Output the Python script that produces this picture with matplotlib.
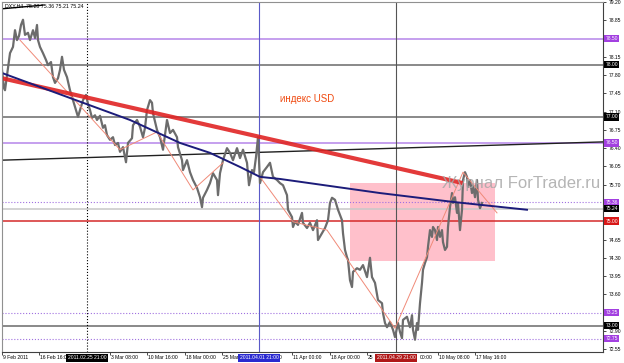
import numpy as np
import matplotlib.pyplot as plt
from matplotlib.patches import Rectangle
import matplotlib.transforms as mtransforms

plt.rcParams['font.family'] = ['Liberation Sans', 'DejaVu Sans']

# DXY H4 price path (bar position, price)
bar_x = [2, 4, 5, 7, 10, 13, 15, 17, 19, 21, 23, 25, 28, 30, 33, 35, 37, 38, 40, 43,
         46, 48, 51, 53, 55, 58, 60, 62, 64, 67, 70, 73, 75, 78, 80, 83, 86, 88, 90, 92,
         95, 97, 100, 103, 105, 107, 110, 113, 115, 118, 120, 123, 126, 128, 132, 133, 137, 140, 143, 145,
         147, 150, 152, 153, 157, 160, 163, 165, 167, 170, 173, 177, 178, 182, 183, 187, 190, 193, 197, 200,
         202, 203, 207, 210, 213, 217, 218, 220, 223, 227, 230, 233, 237, 240, 243, 247, 249, 252, 254, 256,
         258, 259, 260, 263, 267, 270, 273, 277, 280, 283, 287, 288, 292, 293, 295, 298, 302, 303, 307, 310,
         313, 317, 318, 322, 325, 328, 330, 332, 335, 338, 342, 343, 345, 347, 348, 350, 352, 353, 357, 360,
         363, 367, 370, 372, 375, 378, 382, 383, 385, 387, 390, 393, 395, 398, 400, 402, 403, 407, 410, 412,
         413, 415, 417, 418, 420, 422, 423, 425, 427, 428, 430, 432, 433, 435, 437, 438, 440, 442, 443, 445,
         447, 448, 450, 452, 453, 455, 457, 458, 460, 462, 463, 465, 467, 468, 470, 472, 473, 475, 477, 478,
         480, 482]
price = [77.90, 77.55, 77.51, 77.80, 78.22, 78.34, 78.66, 78.47, 78.55, 78.76, 78.86, 78.57, 78.61, 78.47, 78.66, 78.51, 78.76, 78.47, 78.34, 78.22,
         78.09, 77.99, 78.05, 77.76, 77.65, 77.74, 77.90, 78.15, 77.90, 77.76, 77.51, 77.32, 77.19, 77.00, 77.13, 77.32, 77.42, 77.25, 77.13, 76.98,
         77.03, 76.94, 77.02, 76.79, 76.84, 76.65, 76.56, 76.61, 76.46, 76.50, 76.33, 76.42, 76.13, 76.50, 76.59, 76.84, 76.94, 76.81, 76.61, 76.79,
         77.13, 77.32, 77.27, 77.07, 76.75, 76.61, 76.37, 76.65, 76.94, 76.69, 76.75, 76.61, 76.42, 76.17, 75.98, 76.17, 75.94, 75.79, 75.64, 75.46,
         75.27, 75.45, 75.60, 75.73, 75.92, 75.79, 75.50, 75.92, 76.17, 76.40, 76.31, 76.17, 76.40, 76.21, 76.37, 76.12, 75.69, 75.98, 75.94, 76.23,
         76.61, 76.17, 75.73, 75.94, 76.04, 76.12, 75.85, 75.79, 75.73, 75.69, 75.50, 75.22, 75.08, 74.89, 74.99, 74.93, 75.16, 74.97, 74.87, 74.97,
         74.83, 75.02, 74.64, 74.77, 74.87, 75.02, 75.35, 75.45, 75.41, 75.22, 75.02, 74.77, 74.45, 74.31, 74.26, 73.87, 73.74, 74.03, 74.10, 74.07,
         74.16, 73.93, 74.30, 73.93, 73.82, 73.49, 73.43, 73.24, 73.05, 72.97, 73.07, 72.92, 72.78, 73.05, 72.88, 72.76, 73.11, 73.17, 72.97, 73.20,
         72.92, 72.73, 73.05, 72.92, 73.43, 73.82, 74.07, 74.20, 74.31, 74.51, 74.83, 74.70, 74.89, 74.83, 74.64, 74.89, 74.70, 74.83, 74.60, 74.45,
         74.51, 74.89, 75.27, 75.54, 75.35, 75.46, 75.16, 75.35, 74.83, 75.22, 75.79, 75.94, 75.85, 75.66, 75.79, 75.54, 75.69, 75.46, 75.79, 75.41,
         75.25, 75.35]

# horizontal levels
level_vals = [78.50, 78.00, 77.00, 76.50, 75.36, 75.24, 75.00, 73.25, 73.00, 72.75]
level_text = ['78.50', '78.00', '77.00', '76.50', '75.36', '75.24', '75.00', '73.25', '73.00', '72.75']
level_line = ['#b585ea', '#6a6a6a', '#6a6a6a', '#b585ea', '#a070e0', '#c8c8c8', '#d42a2a', '#a070e0', '#6a6a6a', '#a070e0']
level_style = ['-', '-', '-', '-', ':', '-', '-', ':', '-', ':']
level_box = ['#a23fe0', 'black', 'black', '#a23fe0', '#a23fe0', 'black', '#d81818', '#a23fe0', 'black', '#a23fe0']

# vertical time lines
vline_x = [87, 259, 396]
vline_text = ['2011.02.25 21:00', '2011.04.01 21:00', '2011.04.29 21:00']
vline_color = ['black', '#5a5ac8', '#555555']
vline_style = [':', '-', '-']
vline_box = ['black', '#2a2ad0', '#b01818']

# trend lines
red_x = [2, 463]
red_y = [77.74, 75.73]
blue_x = [2, 73, 130, 180, 210, 240, 260, 280, 380, 453, 527]
blue_y = [77.84, 77.34, 76.94, 76.50, 76.31, 76.04, 75.85, 75.81, 75.54, 75.37, 75.22]
black_x = [2, 603]
black_y = [76.17, 76.52]
zz1_x = [20, 120, 157, 193, 223]
zz1_y = [78.47, 76.37, 76.71, 75.60, 76.12]
zz2_x = [260, 293, 327, 395, 463, 497]
zz2_y = [75.85, 74.99, 74.83, 72.95, 75.94, 75.16]
top_x = [2, 43]
top_y = [79.07, 79.14]

# box zone
zone_x = [350, 495]
zone_y = [74.24, 75.73]

# axis ticks (scale values hidden under the level boxes are left out)
ytick_vals = [79.20, 78.85, 78.15, 77.80, 77.45, 77.10, 76.75, 76.40, 76.05, 75.70,
              74.65, 74.30, 73.95, 73.60, 72.90, 72.55]
xtick_pos = [2, 39, 110, 147, 185, 222, 292, 330, 367, 438, 475]
xtick_lbl = ['9 Feb 2011', '16 Feb 16:0', '3 Mar 08:00', '10 Mar 16:00',
             '18 Mar 00:00', '25 Mar', '11 Apr 00:00', '18 Apr 00:00',
             '25', '10 May 08:00', '17 May 16:00']
frag_pos = [278, 419]
frag_lbl = ['0', '00:00']

fig = plt.figure(figsize=(6.24, 3.63), dpi=100)
ax = fig.add_axes([2 / 624, 11 / 363, 601 / 624, 350 / 363])
ax.set_xlim(2, 603)
ax.set_ylim(72.495, 79.20)

ax.add_patch(Rectangle((zone_x[0], zone_y[0]), zone_x[1] - zone_x[0], zone_y[1] - zone_y[0],
                       facecolor='#ffc0cb', edgecolor='none', zorder=0.5))

for v, c, s in zip(level_vals, level_line, level_style):
    ax.axhline(v, color=c, ls=s, lw=1.1 if s == '-' else 0.8, zorder=1)

for v, c, s in zip(vline_x, vline_color, vline_style):
    ax.axvline(v, color=c, ls=s, lw=0.8, zorder=1)

ax.plot(black_x, black_y, color='#202020', lw=1.0, zorder=2)
ax.plot(bar_x, price, color='#6c6c6c', lw=1.6, zorder=2.2)
ax.plot(zz1_x, zz1_y, color='#f08a78', lw=0.7, zorder=2.3)
ax.plot(zz2_x, zz2_y, color='#f08a78', lw=0.7, zorder=2.3)
ax.plot(red_x, red_y, color='#e02424', lw=3.0, alpha=0.9, zorder=2.4, solid_capstyle='butt')
ax.plot(blue_x, blue_y, color='#1c1c7a', lw=1.4, zorder=2.5)
ax.plot(top_x, top_y, color='black', lw=1.0, zorder=2.5)

ax.text(280, 77.35, 'индекс USD', color='#f04a10', fontsize=7, va='center', ha='left')
ax.text(442, 75.72, 'Журнал ForTrader.ru', color='#a8a8a8', fontsize=12, va='center',
        ha='left', alpha=0.85, zorder=3, clip_on=True)
ax.text(5, 79.13, 'DXY,H4  75.28 75.36 75.21 75.24', fontsize=3.8, va='center', ha='left')

# right price scale
ax.yaxis.tick_right()
ax.set_yticks(ytick_vals)
ax.set_yticklabels([f'{v:.2f}' for v in ytick_vals])
ax.tick_params(axis='y', labelsize=3.6, length=2, width=0.5, pad=2, colors='black')

trans_y = mtransforms.blended_transform_factory(ax.transAxes, ax.transData)
for v, t, c in zip(level_vals, level_text, level_box):
    ax.text(1.004, v, t, transform=trans_y, fontsize=3.6, color='white', va='center',
            ha='left', clip_on=False, zorder=5,
            bbox=dict(boxstyle='square,pad=0.25', facecolor=c, edgecolor='none'))

# time scale
ax.set_xticks(xtick_pos)
ax.set_xticklabels([])
ax.tick_params(axis='x', length=2, width=0.5, colors='black')
trans_x = mtransforms.blended_transform_factory(ax.transData, ax.transAxes)
for p, t in zip(xtick_pos + frag_pos, xtick_lbl + frag_lbl):
    ax.text(p + 1, -0.009, t, transform=trans_x, fontsize=3.6, va='top', ha='left',
            clip_on=False, zorder=4)
for p, t, c in zip(vline_x, vline_text, vline_box):
    ax.text(p, -0.009, t, transform=trans_x, fontsize=3.6, color='white', va='top',
            ha='center', clip_on=False, zorder=5,
            bbox=dict(boxstyle='square,pad=0.3', facecolor=c, edgecolor='none'))

for side in ['left', 'top']:
    ax.spines[side].set_color('#909090')
    ax.spines[side].set_linewidth(0.8)
for side in ['right', 'bottom']:
    ax.spines[side].set_color('#404040')
    ax.spines[side].set_linewidth(0.8)

fig.savefig('out.png', dpi=100)
